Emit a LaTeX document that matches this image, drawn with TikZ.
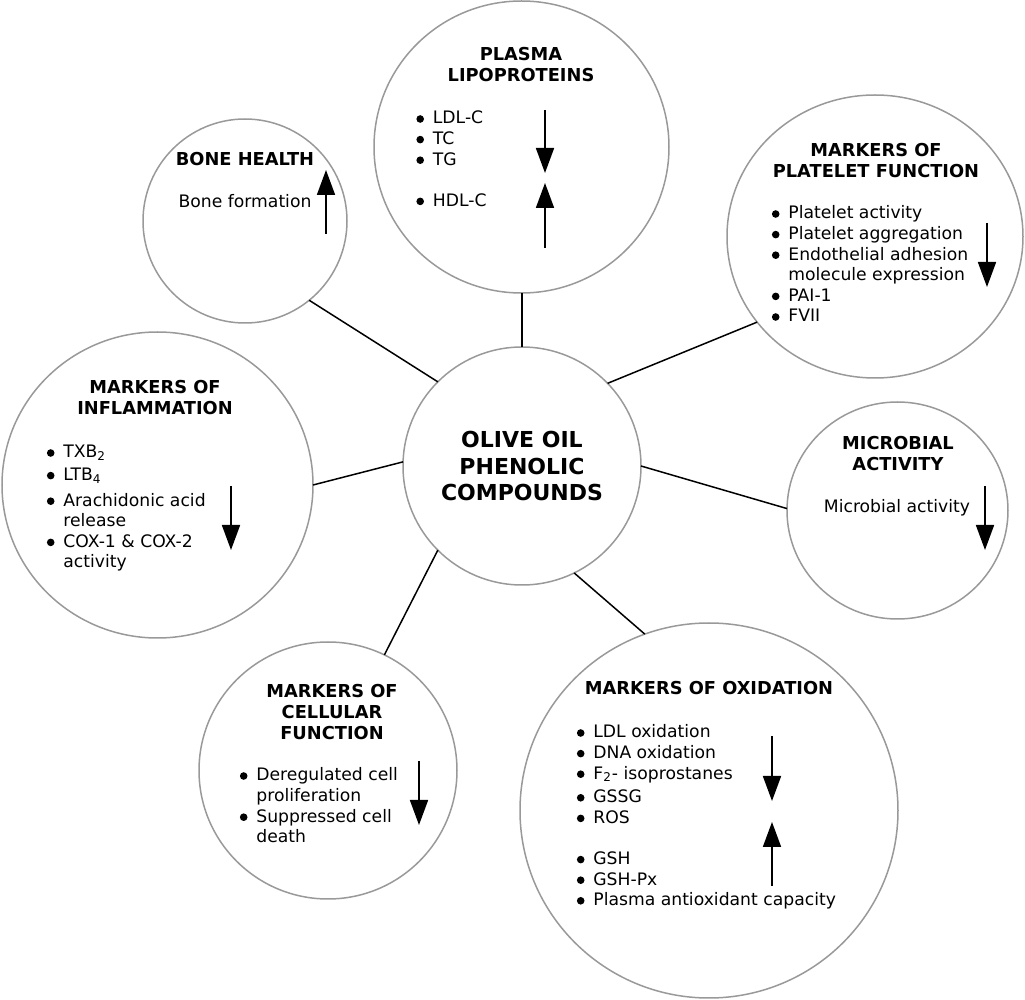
\documentclass[tikz,border=0pt]{standalone}
\usepackage{fontspec}
\setmainfont{DejaVu Sans}
\usepackage{tikz}
\usetikzlibrary{arrows.meta,shapes.geometric,positioning}

\newcommand{\itemfont}{\fontsize{8.6}{10.3}\selectfont}
\newcommand{\headfont}{\bfseries\fontsize{8.9}{10.3}\selectfont}
\newcommand{\hubfont}{\bfseries\fontsize{11}{13.25}\selectfont}
\newcommand{\bul}{\makebox[8.25pt][l]{\tikz[baseline=0pt]\fill (1.9pt,2.5pt) circle (1.9pt);}}
\newcommand{\stack}[1]{\begin{tabular}[t]{@{}c@{}}#1\end{tabular}}
\newcommand{\blist}[1]{\begin{tabular}[t]{@{}l@{}l@{}}#1\end{tabular}}

\tikzset{
    %Define standard arrow tip
    >={Triangle[width=9pt,length=12.5pt]},
    %Define style for circles
    topic/.style={
           ellipse,
           draw=black!40, line width=0.75pt,
           inner sep=0pt, outer sep=0pt},
    hub/.style={
           ellipse,
           draw=black!40, line width=0.75pt,
           inner sep=0pt, outer sep=0pt,
           minimum width=119pt, minimum height=119pt,
           font=\hubfont, align=center},
    %Define style for texts
    heading/.style={
           font=\headfont,
           inner sep=0pt, anchor=base},
    body/.style={
           font=\itemfont,
           inner sep=0pt, anchor=base},
    items/.style={
           font=\itemfont,
           inner sep=0pt, anchor=base west},
    % Define arrow style
    pil/.style={
           ->,
           line width=0.9pt},
    link/.style={
           -,
           draw=black, line width=0.75pt}
}

\begin{document}
\begin{tikzpicture}[x=0.5pt,y=-0.5pt]
\useasboundingbox (0,0) rectangle (1025,1000);

 %circles
\node[hub] (hub) at (522,466) {OLIVE OIL\\PHENOLIC\\COMPOUNDS};
\node[topic, minimum width=147.5pt, minimum height=146pt] (plasma) at (521.5,147) {};
\node[topic, minimum width=102pt, minimum height=102pt] (bone) at (245,221) {};
\node[topic, minimum width=148pt, minimum height=141.5pt] (platelet) at (875,236.5) {};
\node[topic, minimum width=155.5pt, minimum height=153pt] (inflam) at (157.5,485) {};
\node[topic, minimum width=110.5pt, minimum height=108.5pt] (microbial) at (897.5,510.5) {};
\node[topic, minimum width=129pt, minimum height=128.5pt] (cellular) at (328,770.5) {};
\node[topic, minimum width=189pt, minimum height=187.5pt] (oxidation) at (709,810.5) {};

 %links
\path[link]
    (hub.135) edge (bone.-51)
    (hub.north) edge (hub.north |- plasma.south)
    (hub.44.5) edge (platelet.216)
    (hub.178) edge (inflam.0)
    (hub.0) edge (microbial.179)
    (hub.225) edge (cellular.64)
    (hub.-64) edge (oxidation.110);

 %texts
\node[heading] (plasmahead) at (521,61) {\stack{PLASMA\\LIPOPROTEINS}};
\node[items] (plasmalist) at (416,124) {\blist{\bul&LDL-C\\\bul&TC\\\bul&TG\\&\\\bul&HDL-C}};

\node[heading] (bonehead) at (245,166) {BONE HEALTH};
\node[body] (bonetext) at (245,208) {Bone formation};

\node[heading] (platelethead) at (876,157) {\stack{MARKERS OF\\PLATELET FUNCTION}};
\node[items] (plateletlist) at (771.5,219) {\blist{\bul&Platelet activity\\\bul&Platelet aggregation\\
    \bul&Endothelial adhesion\\&molecule expression\\\bul&PAI-1\\\bul&FVII}};

\node[heading] (inflamhead) at (155,394) {\stack{MARKERS OF\\INFLAMMATION}};
\node[items] (inflamlist) at (46.5,458) {\blist{\bul&TXB\textsubscript{2}\\[1pt]\bul&LTB\textsubscript{4}\\[2.5pt]
    \bul&Arachidonic acid\\&release\\\bul&COX-1 \& COX-2\\&activity}};

\node[heading] (microbialhead) at (898,450) {\stack{MICROBIAL\\ACTIVITY}};
\node[body] (microbialtext) at (897,513) {Microbial activity};

\node[heading] (cellularhead) at (332,698) {\stack{MARKERS OF\\CELLULAR\\FUNCTION}};
\node[items] (cellularlist) at (239.5,781) {\blist{\bul&Deregulated cell\\&proliferation\\\bul&Suppressed cell\\&death}};

\node[heading] (oxidationhead) at (709,695) {MARKERS OF OXIDATION};
\node[items] (oxidationlist) at (576.5,738) {\blist{\bul&LDL oxidation\\\bul&DNA oxidation\\\bul&F\textsubscript{2}- isoprostanes\\[1.5pt]
    \bul&GSSG\\\bul&ROS\\&\\\bul&GSH\\\bul&GSH-Px\\\bul&Plasma antioxidant capacity}};

 %arrows
\draw[pil] (545,110) -- (545,173);
\draw[pil] (545,248) -- (545,183);
\draw[pil] (326,234) -- (326,170);
\draw[pil] (987,223) -- (987,287);
\draw[pil] (231,486) -- (231,550);
\draw[pil] (985,486) -- (985,550);
\draw[pil] (419,761) -- (419,825);
\draw[pil] (772,736) -- (772,801);
\draw[pil] (772,886) -- (772,822);
\end{tikzpicture}
\end{document}
